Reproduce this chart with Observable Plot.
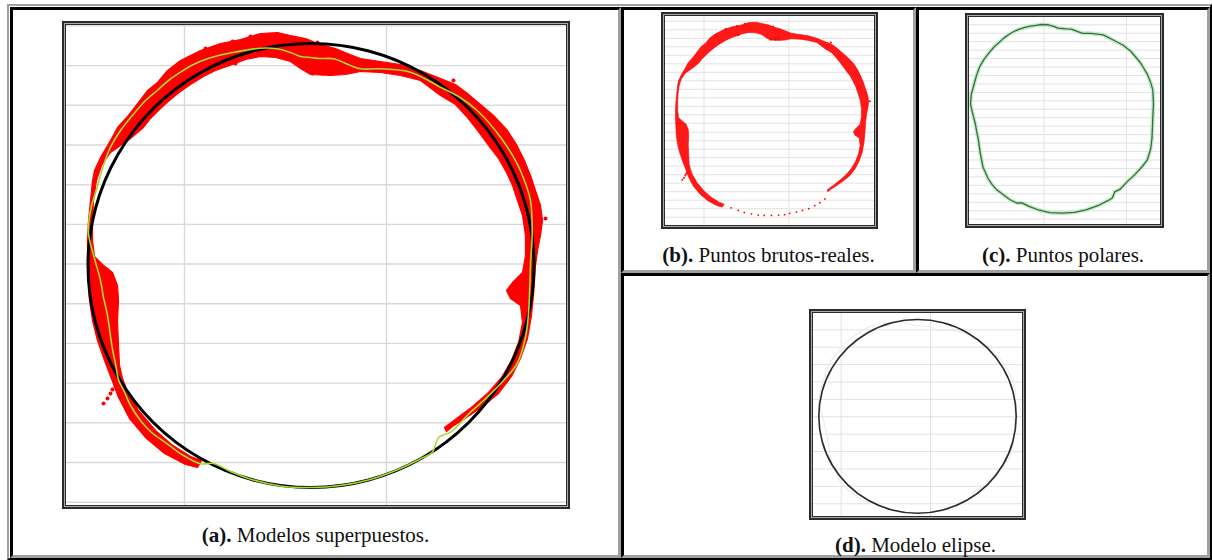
<!DOCTYPE html>
<html><head><meta charset="utf-8">
<script src="https://cdn.jsdelivr.net/npm/d3@7"></script>
<script src="https://cdn.jsdelivr.net/npm/@observablehq/plot@0.6"></script>
<style>
html,body{margin:0;padding:0;background:#fff;}
body{width:1212px;height:560px;position:relative;overflow:hidden;font-family:"Liberation Serif","Times New Roman","Tinos","DejaVu Serif","Noto Serif",serif;}
.box{position:absolute;box-sizing:border-box;}
.tbl{left:7px;top:4px;width:1205px;height:556px;border-style:solid;border-width:2px;border-color:#a0a0a0 #000 #000 #a0a0a0;}
.cell{border-style:solid;border-width:3px;border-color:#000 #a0a0a0 #a0a0a0 #000;}
.frame{position:absolute;border:2px solid #2b2b2b;padding:1px;background:#a9a9a9;}
.inner{border:1px solid #2b2b2b;background:#fff;line-height:0;}
.inner svg{display:block;}
.cap{position:absolute;font-family:"Liberation Serif","Times New Roman","Tinos","DejaVu Serif","Noto Serif",serif;font-size:21px;line-height:24px;white-space:nowrap;color:#111;text-align:center;}
</style></head><body>
<div class="box tbl"></div>
<div class="box cell" style="left:10px;top:7px;width:611px;height:551px"></div>
<div class="box cell" style="left:621px;top:7px;width:295px;height:266px"></div>
<div class="box cell" style="left:916px;top:7px;width:294px;height:266px"></div>
<div class="box cell" style="left:621px;top:273px;width:589px;height:285px"></div>
<div class="frame" id="fa" style="left:62px;top:21px"><div class="inner"></div></div>
<div class="frame" id="fb" style="left:661px;top:12px"><div class="inner"></div></div>
<div class="frame" id="fc" style="left:965px;top:13px"><div class="inner"></div></div>
<div class="frame" id="fd" style="left:809px;top:309px"><div class="inner"></div></div>
<div class="cap" id="ca" style="left:10px;width:611px;top:523px"></div>
<div class="cap" id="cb" style="left:621px;width:295px;top:243px"></div>
<div class="cap" id="cc" style="left:916px;width:294px;top:243px"></div>
<div class="cap" id="cd" style="left:621px;width:589px;top:533px"></div>
<script>
// ---- data (common coordinate units) ----
const captionTags = ["(a).", "(b).", "(c).", "(d)."];
const captionTexts = ["Modelos superpuestos.", "Puntos brutos-reales.", "Puntos polares.", "Modelo elipse."];

// fitted ellipse model
const ellipseX = [467.5,459.9,437.6,402.2,356,302.2,244.5,186.8,133,86.8,51.4,29.1,21.5,29.1,51.4,86.8,133,186.8,244.5,302.2,356,402.2,437.6,459.9];
const ellipseY = [240,297.5,351,397,432.3,454.5,462,454.5,432.3,397,351,297.5,240,182.5,129,83,47.7,25.5,18,25.5,47.7,83,129,182.5];

// polar points curve
const polarX = [22,24,30.7,37,44,54,67.3,79,90.7,102,114,127,140.7,154,167.3,181,194,210.7,224,234,244,254,267,284,294,314,344,374,392,410.7,434,450.7,459,464,465.7,464,463.5,462,459,450.7,437,420.7,404,384,372.3,365.7,356,334,302,274,244.5,214,186.8,164,147,134,117,100.7,84,74,64,57.3,52.3,49,45.7,40.7,37,34,28];
const polarY = [272,295,318.3,340,358.3,375,391.7,405,415,425,433.3,441,446.7,450.5,453.3,455.5,457.3,456.7,453,449,448,447,446.7,440,436.7,436.7,433.3,418.3,409,395,368.3,341.7,322,305,271.7,241.7,225,192,168,142,125,108.3,93.3,73.3,68.3,53.3,47.7,37,25.5,20,18,19.5,25.5,34,42,41.7,50,61.7,74,85,100,115,125,141.7,158,191.7,208,225,247];

// raw points: outline of the dense band (outer edge, then inner edge)
const rawBandX = [131,119,98,80,63,52,46,38,31,26,23,22,21,21,22,24,26,28,34,44,51,61,71,81,91,101,114,134,154,174,194,211,224,239,254,269,281,294,314,334,354,374,389,401,414,427,441,450,458,464,469,474,476,474,471,469,468,467,465,461,454,445,432,416,400,386,380,
378,390,406,422,435,445,452,456,454,444,440,446,456,459,459,456,451,446,440,432,422,411,400,389,374,354,334,314,294,279,264,244,234,224,209,194,179,166,149,137,124,114,104,94,84,77,64,54,44,35,30,27,26,26,28,36,46,51,52,51,52,53,56,61,72,89,105,124,135];
const rawBandY = [38,41,52,67,87,108,124,145,165,185,205,225,245,265,285,305,325,335,348,365,378,389,402,415,423,435,445,455,462,466,472,473,470,467,461,457,452,447,444,441,435,427,421,412,401,390,375,361,345,330,315,300,285,270,255,240,225,210,190,167,147,129,112,99,88,79,74,
78,87,99,113,128,145,163,183,200,207,215,223,233,250,270,290,305,320,333,347,360,375,389,401,410,425,430,433,434,431,430,431,437,444,448,449,446,441,435,429,421,414,406,397,387,378,367,360,353,340,325,305,285,265,249,241,233,220,205,185,160,140,127,114,95,75,61,49,45];
// isolated raw points
const rawDotX = [169,251,387,479,37,41,44,49,46,139,166,184,264,256,246];
const rawDotY = [442,463,425,287,102,107,112,119,116,457,464,469,435,432,432];
// sparse raw points along the bottom
const bottomX = [152,169,183,200,216,230,247,264,278,290,306,320,335,349,361,373];
const bottomY = [36,30,25,22,19,18,18,19,20,23,26,30,34,41,48,57];

// gridlines of each chart
const gridAX = [118,320];
const gridAY = [479.6,439.9,400.2,360.5,320.8,281.1,241.5,201.8,162.1,122.4,82.7,43,3.3];
const gridBX = [88,288];
const gridBY = [475,455,435,415,395,375,355,335,315,295,275,255,235,214,194,174,154,134,114,94,74,54,34,14];
const gridCX = [200,400];
const gridCY = [456.6,436.9,417.3,397.6,377.9,358.2,338.6,318.9,299.2,279.6,259.9,240.2,220.6,200.9,181.2,161.5,141.9,122.2,102.5,82.9,63.2,43.5,23.8,4.2];
const gridDX = [72,274];
const gridDY = [438.4,398.5,358.6,318.8,278.9,239,199.1,159.2,119.4,79.5,39.6];

// ---- build ----
const pts = (xs, ys) => xs.map((x, i) => ({x, y: ys[i]}));
const ellipse = pts(ellipseX, ellipseY);
const polar = pts(polarX, polarY);
const band = pts(rawBandX, rawBandY);
const dots = pts(rawDotX, rawDotY);
const bottom = pts(bottomX, bottomY);

function chart(opts) {
  return Plot.plot({
    width: opts.width, height: opts.height, margin: 0,
    style: {background: "#fff", overflow: "hidden"},
    x: {domain: opts.xd, axis: null},
    y: {domain: opts.yd, axis: null},
    marks: [
      Plot.ruleX(opts.gx, {stroke: opts.gc, strokeWidth: opts.gw}),
      Plot.ruleY(opts.gy, {stroke: opts.gc, strokeWidth: opts.gw}),
      ...opts.marks
    ]
  });
}

const A = chart({width: 500, height: 480, xd: [0, 500], yd: [0, 480], gx: gridAX, gy: gridAY, gc: "#d9d9d9", gw: 1.4,
  marks: [
    Plot.line(band, {x: "x", y: "y", curve: "linear-closed", fill: "#ff0000", stroke: "#ff0000", strokeWidth: 1.2}),
    Plot.dot(dots, {x: "x", y: "y", r: 2, fill: "#ff0000"}),
    Plot.line(ellipse, {x: "x", y: "y", curve: "catmull-rom-closed", stroke: "#000", strokeWidth: 3}),
    Plot.line(polar, {x: "x", y: "y", curve: "catmull-rom-closed", stroke: "#a2dc2c", strokeWidth: 1.6})
  ]});
const B = chart({width: 209, height: 209, xd: [-2.6, 489.8], yd: [-5.6, 486.4], gx: gridBX, gy: gridBY, gc: "#e2e2e2", gw: 1,
  marks: [
    Plot.line(band, {x: "x", y: "y", curve: "linear-closed", fill: "#ff0000", fillOpacity: 0.9, stroke: "#ff0000", strokeWidth: 0.6}),
    Plot.dot(dots, {x: "x", y: "y", r: 1, fill: "#ff0000"}),
    Plot.dot(bottom, {x: "x", y: "y", r: 0.9, fill: "#ff0000"})
  ]});
const C = chart({width: 191, height: 207, xd: [19.6, 482.7], yd: [-8.3, 473.6], gx: gridCX, gy: gridCY, gc: "#e2e2e2", gw: 1,
  marks: [
    Plot.line(polar, {x: "x", y: "y", curve: "linear-closed", stroke: "#c4ebc4", strokeWidth: 4}),
    Plot.line(polar, {x: "x", y: "y", curve: "linear-closed", stroke: "#336e40", strokeWidth: 1.3})
  ]});
const D = chart({width: 209, height: 203, xd: [9.5, 481.7], yd: [10.4, 475.75], gx: gridDX, gy: gridDY, gc: "#e2e2e2", gw: 1,
  marks: [
    Plot.line(polar, {x: "x", y: "y", curve: "catmull-rom-closed", stroke: "#ededed", strokeWidth: 1.2}),
    Plot.line(ellipse, {x: "x", y: "y", curve: "catmull-rom-closed", stroke: "#2a2a2a", strokeWidth: 1.6})
  ]});

[["fa", A], ["fb", B], ["fc", C], ["fd", D]].forEach(([id, svg]) => document.querySelector("#" + id + " .inner").appendChild(svg));
["ca", "cb", "cc", "cd"].forEach((id, i) => {
  const el = document.getElementById(id);
  const b = document.createElement("b");
  b.textContent = captionTags[i];
  el.appendChild(b);
  el.appendChild(document.createTextNode(" " + captionTexts[i]));
});
</script>
</body></html>
